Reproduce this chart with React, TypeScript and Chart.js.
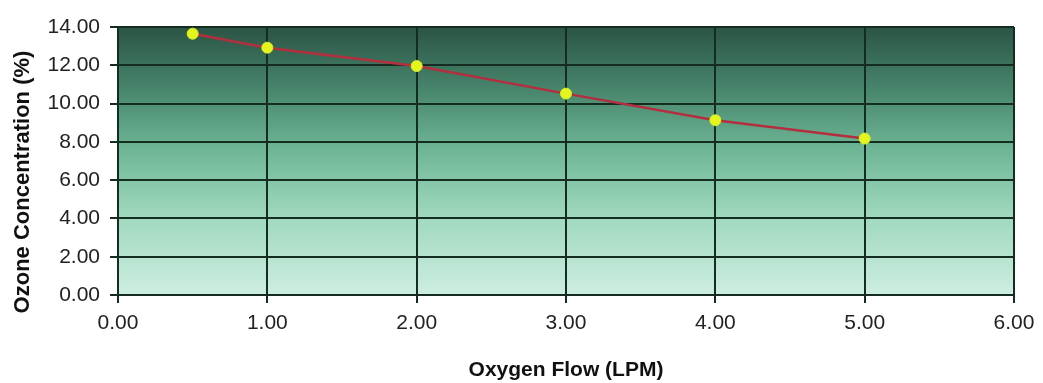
import React, { useEffect, useRef } from "react";
import { Chart, registerables } from "chart.js";

Chart.register(...registerables);

const oxygenFlow = [0.5, 1, 2, 3, 4, 5];
const ozoneConcentration = [13.65, 12.92, 11.96, 10.52, 9.13, 8.17];
const xTitle = "Oxygen Flow (LPM)";
const yTitle = "Ozone Concentration (%)";

const FONT = "'Liberation Sans', Arial, sans-serif";

const bgPlugin = {
  id: "plotBg",
  beforeDraw(chart: any) {
    const { ctx, chartArea } = chart;
    if (!chartArea) return;
    const { left, top, right, bottom } = chartArea;
    const g = ctx.createLinearGradient(0, top, 0, bottom);
    g.addColorStop(0, "#2b5444");
    g.addColorStop(0.22, "#46836a");
    g.addColorStop(0.45, "#6cb494");
    g.addColorStop(0.7, "#9fd8bd");
    g.addColorStop(1, "#cdeee1");
    ctx.save();
    ctx.fillStyle = g;
    ctx.fillRect(left, top, right - left, bottom - top);
    ctx.restore();
  },
};

const yTitlePlugin = {
  id: "yTitle",
  afterDraw(chart: any) {
    const { ctx } = chart;
    ctx.save();
    ctx.translate(23, 182);
    ctx.rotate(-Math.PI / 2);
    ctx.font = `bold 22px ${FONT}`;
    ctx.fillStyle = "#111111";
    ctx.textAlign = "center";
    ctx.textBaseline = "middle";
    ctx.fillText(yTitle, 0, 0);
    ctx.restore();
  },
};

export default function App() {
  const ref = useRef<HTMLCanvasElement>(null);

  useEffect(() => {
    if (!ref.current) return;
    const chart = new Chart(ref.current, {
      type: "line",
      data: {
        datasets: [
          {
            data: oxygenFlow.map((x, i) => ({ x, y: ozoneConcentration[i] })),
            borderColor: "#b32e3e",
            borderWidth: 2.5,
            pointBackgroundColor: "#e4f51c",
            pointBorderColor: "#d8ee2a",
            pointBorderWidth: 1,
            pointRadius: 5.5,
            tension: 0,
          },
        ],
      },
      options: {
        responsive: false,
        animation: false,
        layout: { padding: { top: 27, right: 29, bottom: 0, left: 0 } },
        plugins: {
          legend: { display: false },
          tooltip: { enabled: false },
        },
        scales: {
          x: {
            type: "linear",
            min: 0,
            max: 6,
            afterFit(scale: any) {
              scale.height = 88;
            },
            ticks: {
              stepSize: 1,
              padding: 8,
              color: "#222222",
              font: { family: FONT, size: 21 },
              callback: (v: any) => Number(v).toFixed(2),
              maxRotation: 0,
            },
            grid: { color: "#152c21", lineWidth: 2, tickLength: 8 },
            border: { color: "#152c21", width: 2 },
            title: {
              display: true,
              text: xTitle,
              color: "#111111",
              font: { family: FONT, size: 21, weight: "bold" },
              padding: { top: 0, bottom: 0 },
            },
          },
          y: {
            min: 0,
            max: 14,
            afterFit(scale: any) {
              scale.width = 118;
            },
            ticks: {
              stepSize: 2,
              padding: 10,
              color: "#222222",
              font: { family: FONT, size: 21 },
              callback: (v: any) => Number(v).toFixed(2),
            },
            grid: { color: "#152c21", lineWidth: 2, tickLength: 8 },
            border: { color: "#152c21", width: 2 },
          },
        },
      },
      plugins: [bgPlugin, yTitlePlugin],
    });
    return () => chart.destroy();
  }, []);

  return (
    <div style={{ position: "fixed", left: 0, top: 0, width: 1043, height: 383, background: "#ffffff" }}>
      <canvas ref={ref} width={1043} height={383} style={{ display: "block" }} />
    </div>
  );
}
